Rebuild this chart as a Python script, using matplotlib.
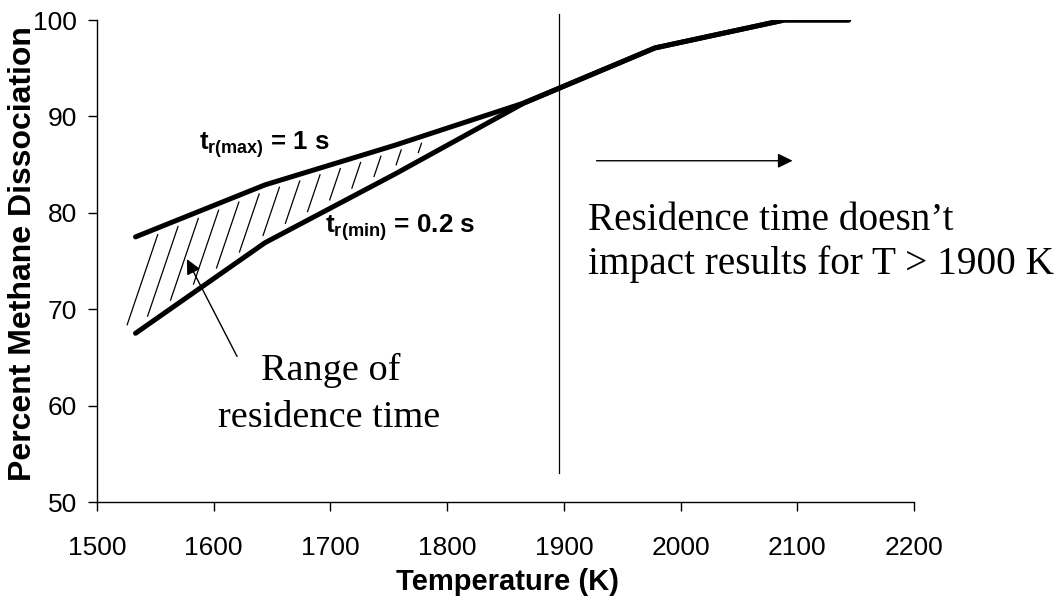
import numpy as np
import matplotlib
matplotlib.use("Agg")
import matplotlib.pyplot as plt

plt.rcParams['font.family'] = ['Liberation Sans', 'DejaVu Sans']
plt.rcParams['mathtext.fontset'] = 'custom'
plt.rcParams['mathtext.rm'] = 'Liberation Sans:bold'
plt.rcParams['mathtext.bf'] = 'Liberation Sans:bold'
plt.rcParams['mathtext.it'] = 'Liberation Sans:bold'

# ---- data ----
temperature = [1533, 1644, 1755, 1866, 1978, 2089, 2144]
dissoc_tmax = [77.5, 82.9, 87.0, 91.4, 97.1, 100.0, 100.0]   # t_r(max) = 1 s
dissoc_tmin = [67.5, 76.9, 84.0, 91.4, 97.1, 100.0, 100.0]   # t_r(min) = 0.2 s
x_ticks = [1500, 1600, 1700, 1800, 1900, 2000, 2100, 2200]
y_ticks = [50, 60, 70, 80, 90, 100]
boundary_T = 1896
hatch_tops = np.linspace(1552, 1778, 14)

W, H = 1063, 605
fig = plt.figure(figsize=(W / 100, H / 100), dpi=100)
ax = fig.add_axes([97 / W, 1 - 502 / H, 817 / W, 482 / H])
ax.set_xlim(1500, 2200)
ax.set_ylim(50, 100)

ax.plot(temperature, dissoc_tmax, color='black', lw=3.6,
        solid_capstyle='round', solid_joinstyle='round', zorder=3)
ax.plot(temperature, dissoc_tmin, color='black', lw=3.6,
        solid_capstyle='round', solid_joinstyle='round', zorder=3)

# hatching between the curves (steep strokes)
slope = 2.8  # K per % along a stroke
for xt in hatch_tops:
    yt = np.interp(xt, temperature, dissoc_tmax) - 0.7
    s = np.linspace(0, 15, 3000)
    xs = xt - slope * s
    ys = yt - s
    low = np.interp(xs, temperature, dissoc_tmin) + 0.9
    idx = np.argmax(ys <= low)
    if idx <= 3:
        continue
    ax.plot([xt, xs[idx]], [yt, ys[idx]], color='black', lw=0.9, zorder=2)

# boundary line
ax.plot([boundary_T, boundary_T], [53.0, 100.6], color='black', lw=0.9,
        clip_on=False, zorder=2)

# arrows
ax.annotate('', xy=(2096, 85.4), xytext=(1928, 85.4),
            arrowprops=dict(arrowstyle='-|>,head_length=0.45,head_width=0.22',
                            mutation_scale=20, lw=1.0, color='black',
                            shrinkA=0, shrinkB=0))
ax.annotate('', xy=(1577, 75.2), xytext=(1620, 65.1),
            arrowprops=dict(arrowstyle='-|>,head_length=0.45,head_width=0.22',
                            mutation_scale=20, lw=1.0, color='black',
                            shrinkA=0, shrinkB=0))

# labels on curves
ax.text(1587, 86.5, r'$\mathbf{t_{r(max)}}$ = 1 s', fontsize=18.5,
        fontweight='bold', va='baseline', ha='left')
ax.text(1695, 77.9, r'$\mathbf{t_{r(min)}}$ = 0.2 s', fontsize=18.8,
        fontweight='bold', va='baseline', ha='left')

serif = ['Liberation Serif', 'DejaVu Serif']
ax.text(1920.7, 78.2, 'Residence time doesn\u2019t', fontsize=28.3,
        family=serif, va='baseline', ha='left')
ax.text(1920.7, 73.7, 'impact results for T > 1900 K', fontsize=28.3,
        family=serif, va='baseline', ha='left')
ax.text(1700.5, 62.7, 'Range of', fontsize=27.5, family=serif,
        va='baseline', ha='center')
ax.text(1699, 57.8, 'residence time', fontsize=27.5, family=serif,
        va='baseline', ha='center')

# axes styling
for side in ['top', 'right']:
    ax.spines[side].set_visible(False)
for side in ['left', 'bottom']:
    ax.spines[side].set_linewidth(1.0)
ax.set_xticks(x_ticks)
ax.set_yticks(y_ticks)
ax.tick_params(axis='both', direction='out', length=6.5, width=1.0,
               labelsize=19)
ax.tick_params(axis='x', pad=18)
ax.tick_params(axis='y', pad=8)

fig.text(507 / W, 1 - 582 / H, 'Temperature (K)', fontsize=21,
         fontweight='bold', ha='center', va='center')
fig.text(23 / W, 1 - 254 / H, 'Percent Methane Dissociation', fontsize=23,
         fontweight='bold', ha='center', va='center', rotation=90)

fig.savefig('out.png', dpi=100)
